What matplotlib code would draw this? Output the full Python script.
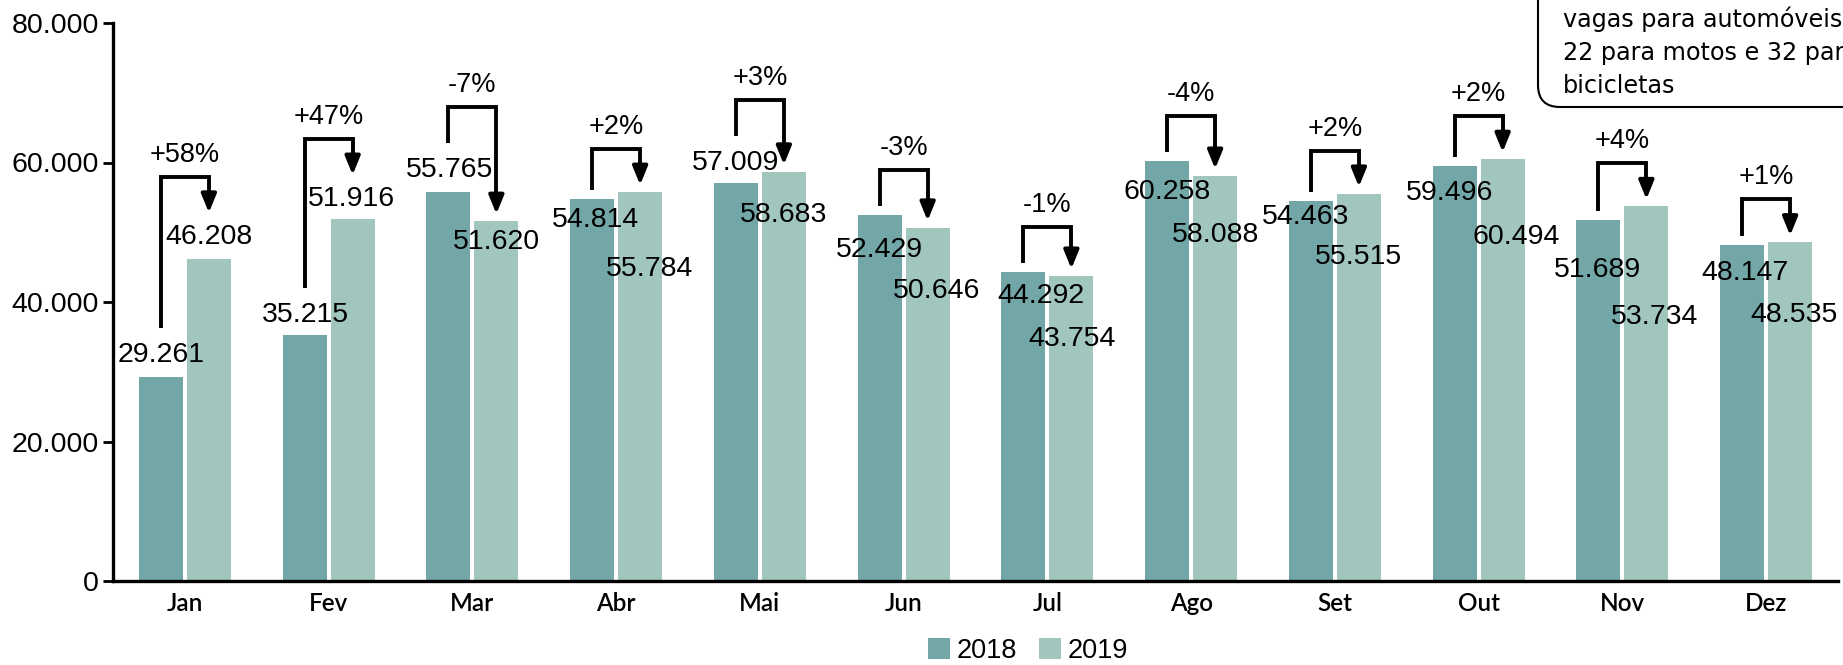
import matplotlib
matplotlib.use('Agg')
import matplotlib.pyplot as plt
from matplotlib.patches import FancyBboxPatch
from matplotlib.ticker import FuncFormatter
from matplotlib.transforms import IdentityTransform
import numpy as np

meses = ['Jan', 'Fev', 'Mar', 'Abr', 'Mai', 'Jun',
         'Jul', 'Ago', 'Set', 'Out', 'Nov', 'Dez']
valores_2018 = [29261, 35215, 55765, 54814, 57009, 52429,
                44292, 60258, 54463, 59496, 51689, 48147]
valores_2019 = [46208, 51916, 51620, 55784, 58683, 50646,
                43754, 58088, 55515, 60494, 53734, 48535]
variacao = ['+58%', '+47%', '-7%', '+2%', '+3%', '-3%',
            '-1%', '-4%', '+2%', '+2%', '+4%', '+1%']
nota = ['vagas para automóveis', '22 para motos e 32 para', 'bicicletas']

# posição dos rótulos (px, relativo ao topo/centro da barra)
dy_2018 = [22, 20, 22, -21, 20, -35, -24, -31, -16, -27, -50, -28]
dx_2018 = [0, 1, 1, 3, 0, 0, 18, 0, -5, -5, -1, 3]
dy_2019 = [22, 20, -21, -77, -43, -63, -63, -59, -63, -78, -111, -73]
dx_2019 = [0, -1, 0, 9, 0, 9, 1, 0, 0, 14, 8, 4]

cor_2018 = '#73A6A7'
cor_2019 = '#A1C6BE'
fonte = 'Liberation Sans'

W, H = 1843, 665
fig = plt.figure(figsize=(W / 100, H / 100), dpi=100)
ax = fig.add_axes([113 / W, 1 - 581 / H, (1838 - 113) / W, (581 - 23) / H])

x = np.arange(len(meses))
off = 0.167
larg = 0.306
ax.bar(x - off, valores_2018, larg, color=cor_2018, label='2018')
ax.bar(x + off, valores_2019, larg, color=cor_2019, label='2019')

ax.set_xlim(-0.5, 11.5)
ax.set_ylim(0, 80000)
ax.set_yticks([0, 20000, 40000, 60000, 80000])
ax.yaxis.set_major_formatter(
    FuncFormatter(lambda v, p: f'{v:,.0f}'.replace(',', '.')))
ax.set_xticks(x)
ax.set_xticklabels(meses, fontsize=17.5, fontweight=600,
                   family=['Lato', fonte])
for lbl in ax.get_yticklabels():
    lbl.set_fontsize(20.5)
    lbl.set_family(fonte)
ax.tick_params(axis='x', length=0, pad=8)
ax.tick_params(axis='y', length=7, width=2, pad=3)
for s in ['top', 'right']:
    ax.spines[s].set_visible(False)
ax.spines['left'].set_linewidth(2.4)
ax.spines['bottom'].set_linewidth(2.4)

# 1 px em unidades de dados
px = 80000 / ((581 - 23))

lw = 2.8
cab = 15  # comprimento da ponta da seta (px)
for i in range(len(meses)):
    x1 = x[i] - off
    x2 = x[i] + off
    ax.annotate(f'{valores_2018[i]:,}'.replace(',', '.'),
                (x1, valores_2018[i]), xytext=(dx_2018[i] * 0.72, dy_2018[i] * 0.72),
                textcoords='offset points', ha='center', va='center',
                fontsize=20.5, family=fonte)
    ax.annotate(f'{valores_2019[i]:,}'.replace(',', '.'),
                (x2, valores_2019[i]), xytext=(dx_2019[i] * 0.72, dy_2019[i] * 0.72),
                textcoords='offset points', ha='center', va='center',
                fontsize=20.5, family=fonte)

    # colchete com seta
    if dy_2018[i] > 0:
        perna = valores_2018[i] + (dy_2018[i] + 27) * px
    else:
        perna = valores_2018[i] + 9 * px
    if dy_2019[i] > 0:
        ponta = valores_2019[i] + (dy_2019[i] + 24) * px
    else:
        ponta = valores_2019[i] + 7 * px
    topo = max(perna, ponta) + 36 * px
    ax.plot([x1, x1, x2, x2], [perna, topo, topo, ponta + cab * px],
            color='black', lw=lw, solid_joinstyle='miter',
            solid_capstyle='butt')
    ax.annotate('', xy=(x2, ponta), xytext=(x2, ponta + (cab + 1) * px),
                arrowprops=dict(arrowstyle='-|>,head_length=1.1,head_width=0.45',
                                color='black', lw=lw, shrinkA=0, shrinkB=0,
                                mutation_scale=10))
    ax.text(x[i], topo + 22 * px, variacao[i], ha='center', va='center',
            fontsize=19.5, family=fonte)

fig.legend(loc='center', bbox_to_anchor=(1028 / W, 1 - 651 / H), ncol=2,
           frameon=False, prop={'family': fonte, 'size': 19.5},
           handlelength=0.8, handleheight=0.8, handletextpad=0.25,
           columnspacing=0.8)

# caixa de texto cortada no canto superior direito
caixa = FancyBboxPatch((1538, H - 107), 500, 300,
                       boxstyle='round,pad=0,rounding_size=22',
                       transform=IdentityTransform(), fc='white',
                       ec='black', lw=1.5)
fig.add_artist(caixa)
for k, linha in enumerate(nota):
    fig.text(1563 / W, 1 - (27 + 33 * k) / H, linha, ha='left',
             va='baseline', fontsize=17.2, family='DejaVu Sans')

fig.savefig('out.png', dpi=100)
